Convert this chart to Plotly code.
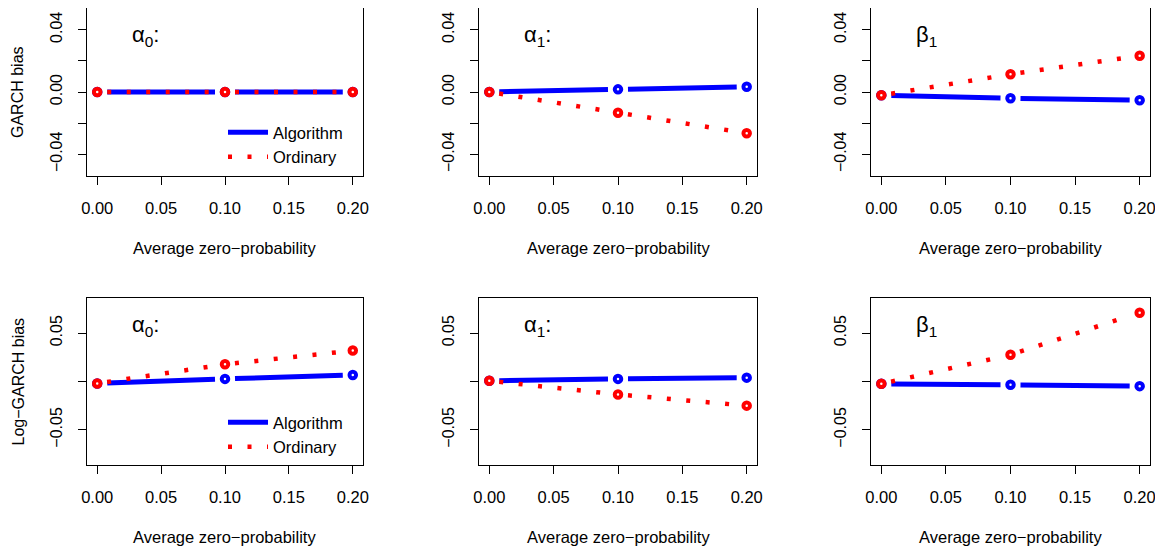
import plotly.graph_objects as go

# x positions: average zero-probability
prob = [0.0, 0.1, 0.2]
x_tickvals = [0.0, 0.05, 0.10, 0.15, 0.20]
x_ticktext = ["0.00", "0.05", "0.10", "0.15", "0.20"]

# GARCH bias (top row)
garch_a0_alg = [0.0, 0.0, 0.0]
garch_a0_ord = [0.0, 0.0, 0.0]
garch_a1_alg = [0.0, 0.0017, 0.0034]
garch_a1_ord = [0.0, -0.0133, -0.0265]
garch_b1_alg = [-0.0021, -0.0040, -0.0053]
garch_b1_ord = [-0.0021, 0.0114, 0.0233]

# Log-GARCH bias (bottom row)
log_a0_alg = [-0.0020, 0.0027, 0.0068]
log_a0_ord = [-0.0020, 0.0178, 0.0320]
log_a1_alg = [0.0007, 0.0027, 0.0040]
log_a1_ord = [0.0007, -0.0134, -0.0250]
log_b1_alg = [-0.0024, -0.0034, -0.0048]
log_b1_ord = [-0.0024, 0.0277, 0.0712]

top_tickvals = [-0.04, -0.02, 0.0, 0.02, 0.04]
top_ticktext = ["\u22120.04", "", "0.00", "", "0.04"]
bot_tickvals = [-0.05, 0.0, 0.05]
bot_ticktext = ["\u22120.05", "", "0.05"]

param_labels = ["\u03b1<sub>0</sub>:", "\u03b1<sub>1</sub>:", "\u03b2<sub>1</sub>"]

# the page body adds an 8px margin, so the figure is drawn 8px smaller
OFF = 8
W, H = 1163 - OFF, 549 - OFF
FONT = "Liberation Sans, Arial, sans-serif"
BLUE, RED = "#0000ff", "#ff0000"

cols = [(87, 363), (479, 757), (871, 1150)]
rows = [(8, 176), (298, 465)]
xrange_ = [-0.008, 0.208]
yranges = [[-0.054, 0.054], [-0.0864, 0.0864]]

panels = [
    (0, 0, garch_a0_alg, garch_a0_ord),
    (0, 1, garch_a1_alg, garch_a1_ord),
    (0, 2, garch_b1_alg, garch_b1_ord),
    (1, 0, log_a0_alg, log_a0_ord),
    (1, 1, log_a1_alg, log_a1_ord),
    (1, 2, log_b1_alg, log_b1_ord),
]


def gapped(xs, ys, xr, yr, wpx, hpx, gap=10.0):
    # R type="b": segments stop short of each point
    sx = wpx / (xr[1] - xr[0])
    sy = hpx / (yr[1] - yr[0])
    gx, gy = [], []
    for i in range(len(xs) - 1):
        dx, dy = xs[i + 1] - xs[i], ys[i + 1] - ys[i]
        L = ((dx * sx) ** 2 + (dy * sy) ** 2) ** 0.5
        t = gap / L
        gx += [xs[i] + t * dx, xs[i + 1] - t * dx, None]
        gy += [ys[i] + t * dy, ys[i + 1] - t * dy, None]
    return gx, gy


fig = go.Figure()
layout = dict(
    width=W, height=H, margin=dict(l=0, r=0, t=0, b=0, autoexpand=False),
    paper_bgcolor="white", plot_bgcolor="white",
    font=dict(family=FONT, size=16, color="black"),
    annotations=[],
)

for k, (r, c, alg, ordy) in enumerate(panels):
    n = "" if k == 0 else str(k + 1)
    xa, ya = "x" + n, "y" + n
    x0, x1 = (v - OFF for v in cols[c])
    y0, y1 = (v - OFF for v in rows[r])
    yr = yranges[r]
    wpx, hpx = x1 - x0, y1 - y0
    leg = "legend" if r == 0 else "legend2"
    show = c == 0

    gx, gy = gapped(prob, alg, xrange_, yr, wpx, hpx)
    fig.add_trace(go.Scatter(x=gx, y=gy, mode="lines", name="Algorithm",
                             line=dict(color=BLUE, width=5),
                             xaxis=xa, yaxis=ya, showlegend=show, legend=leg))
    fig.add_trace(go.Scatter(x=prob, y=alg, mode="markers",
                             marker=dict(symbol="circle", size=6.5, color="white",
                                         line=dict(color=BLUE, width=4)),
                             xaxis=xa, yaxis=ya, showlegend=False))
    gx, gy = gapped(prob, ordy, xrange_, yr, wpx, hpx)
    fig.add_trace(go.Scatter(x=gx, y=gy, mode="lines", name="Ordinary",
                             line=dict(color=RED, width=4.5, dash="4px,15.5px"),
                             xaxis=xa, yaxis=ya, showlegend=show, legend=leg))
    fig.add_trace(go.Scatter(x=prob, y=ordy, mode="markers",
                             marker=dict(symbol="circle", size=6.5, color="white",
                                         line=dict(color=RED, width=4)),
                             xaxis=xa, yaxis=ya, showlegend=False))

    common = dict(showline=True, linecolor="black", linewidth=1.2, mirror=True,
                  ticks="outside", ticklen=8, tickwidth=1.2, tickcolor="black",
                  showgrid=False, zeroline=False, fixedrange=True)
    layout["xaxis" + n] = dict(
        domain=[x0 / W, x1 / W], range=xrange_, anchor=ya,
        tickvals=x_tickvals, ticktext=x_ticktext, ticklabelstandoff=9,
        tickfont=dict(size=16.5), **common)
    layout["yaxis" + n] = dict(
        domain=[max(0, 1 - y1 / H), min(1, 1 - y0 / H)], range=yr, anchor=xa,
        tickvals=top_tickvals if r == 0 else bot_tickvals,
        ticktext=top_ticktext if r == 0 else bot_ticktext,
        tickangle=-90, ticklabelstandoff=10, tickfont=dict(size=16), **common)

    layout["annotations"].append(dict(
        text=param_labels[c], xref=xa + " domain", yref=ya + " domain",
        x=0.155, y=0.835, xanchor="left", yanchor="middle", showarrow=False,
        font=dict(size=22)))
    layout["annotations"].append(dict(
        text="Average zero\u2212probability", xref=xa + " domain", yref=ya + " domain",
        x=0.5, y=0, xanchor="center", yanchor="middle", yshift=-72,
        showarrow=False, font=dict(size=16.5)))
    if c == 0:
        layout["annotations"].append(dict(
            text="GARCH bias" if r == 0 else "Log\u2212GARCH bias",
            xref=xa + " domain", yref=ya + " domain", x=0, y=0.5,
            xanchor="center", yanchor="middle", xshift=-69, textangle=-90,
            showarrow=False, font=dict(size=16)))

for name, top in (("legend", 115), ("legend2", 405)):
    layout[name] = dict(x=(223 - OFF) / W, y=1 - (top - OFF) / H,
                        xanchor="left", yanchor="top", bgcolor="rgba(0,0,0,0)",
                        font=dict(size=16.5), tracegroupgap=0, itemwidth=40)

fig.update_layout(**layout)
fig.write_html("out.html")
